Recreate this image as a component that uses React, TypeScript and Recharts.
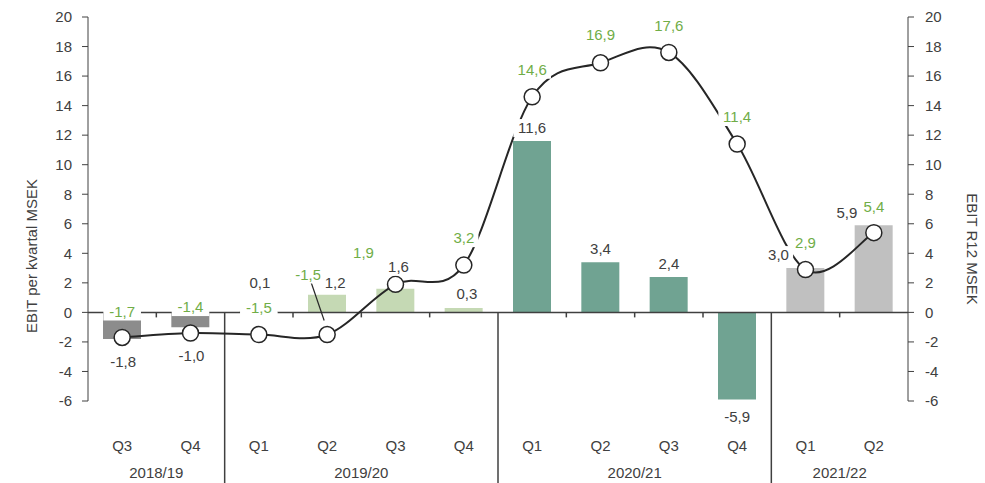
import { ComposedChart, Bar, Line, XAxis, YAxis, Cell, LabelList, ReferenceLine } from 'recharts';

const quarters = ['Q3', 'Q4', 'Q1', 'Q2', 'Q3', 'Q4', 'Q1', 'Q2', 'Q3', 'Q4', 'Q1', 'Q2'];
const years = ['2018/19', '2018/19', '2019/20', '2019/20', '2019/20', '2019/20', '2020/21', '2020/21', '2020/21', '2020/21', '2021/22', '2021/22'];
const ebitQuarter = [-1.8, -1.0, 0.1, 1.2, 1.6, 0.3, 11.6, 3.4, 2.4, -5.9, 3.0, 5.9];
const ebitR12 = [-1.7, -1.4, -1.5, -1.5, 1.9, 3.2, 14.6, 16.9, 17.6, 11.4, 2.9, 5.4];
const yTicks = [-6, -4, -2, 0, 2, 4, 6, 8, 10, 12, 14, 16, 18, 20];

const yearColors: Record<string, string> = {
    '2018/19': '#8C8C8C',
    '2019/20': '#C5D9B4',
    '2020/21': '#70A392',
    '2021/22': '#C0C0C0',
};

// label nudges (px) so the labels sit like in the original
const barLabelShift: [number, number][] = [
    [1, 23], [1, 29], [1, -28], [8, -12], [3, -22], [3, -14],
    [0, -13], [0, -13], [0, -13], [0, 17], [-27, -13], [-27, -12],
];
const r12LabelShift: [number, number][] = [
    [0, -26], [0, -26], [0, -27], [-19, -60], [-32, -32], [0, -27],
    [0, -27], [0, -28], [0, -27], [0, -27], [0, -27], [0, -26],
];

const data = quarters.map((q, i) => ({
    key: `${years[i]} ${q}`,
    ebit: ebitQuarter[i],
    r12: ebitR12[i],
}));

const FONT = '"Liberation Sans", Arial, sans-serif';
const TEXT = '#404040';
const GREEN = '#70AD47';
const fmt = (v: number) => v.toFixed(1).replace('.', ',');

// Excel-style smoothed line (catmull-rom through every point)
const excelSmooth = (context: any) => {
    let pts: [number, number][] = [];
    return {
        areaStart() {},
        areaEnd() {},
        lineStart() {
            pts = [];
        },
        lineEnd() {
            if (!pts.length) return;
            context.moveTo(pts[0][0], pts[0][1]);
            for (let i = 0; i < pts.length - 1; i++) {
                const p0 = pts[Math.max(i - 1, 0)];
                const p1 = pts[i];
                const p2 = pts[i + 1];
                const p3 = pts[Math.min(i + 2, pts.length - 1)];
                context.bezierCurveTo(
                    p1[0] + (p2[0] - p0[0]) / 6, p1[1] + (p2[1] - p0[1]) / 6,
                    p2[0] - (p3[0] - p1[0]) / 6, p2[1] - (p3[1] - p1[1]) / 6,
                    p2[0], p2[1],
                );
            }
        },
        point(x: number, y: number) {
            pts.push([+x, +y]);
        },
    };
};

const BoxLabel = ({ x, y, text, color }: { x: number; y: number; text: string; color: string }) => {
    const w = text.length * 8.4 + 4;
    return (
        <g>
            <rect x={x - w / 2} y={y - 9} width={w} height={18} fill="#fff" />
            <text x={x} y={y} dy="0.35em" textAnchor="middle" fill={color} fontSize={15} fontFamily={FONT}>
                {text}
            </text>
        </g>
    );
};

const BarValueLabel = (props: any) => {
    const { x, y, index, value } = props;
    const [dx, dy] = barLabelShift[index];
    return <BoxLabel x={x + dx} y={y + dy} text={fmt(value)} color={TEXT} />;
};

const R12Label = (props: any) => {
    const { x, y, index, value } = props;
    const [dx, dy] = r12LabelShift[index];
    return (
        <g>
            {index === 3 && <line x1={x - 16} y1={y - 52} x2={x - 3} y2={y - 14} stroke="#262626" strokeWidth={1.2} />}
            <BoxLabel x={x + dx} y={y + dy} text={fmt(value)} color={GREEN} />
        </g>
    );
};

const ZeroLine = (props: any) => {
    const { x1, x2, y1 } = props;
    const band = (x2 - x1) / quarters.length;
    return (
        <g stroke="#404040" strokeWidth={1.5}>
            <line x1={x1} x2={x2} y1={y1} y2={y1} />
            {quarters.map((_, k) => {
                const xb = x1 + band * k;
                if (k > 0 && years[k] !== years[k - 1]) {
                    return <line key={k} x1={xb} x2={xb} y1={y1} y2={y1 + 200} />;
                }
                return k > 0 ? <line key={k} x1={xb} x2={xb} y1={y1} y2={y1 + 5} /> : null;
            })}
        </g>
    );
};

const XTick = (props: any) => {
    const { x, y, index, width } = props;
    const band = (width || 820) / quarters.length;
    const yr = years[index];
    const first = years.indexOf(yr);
    const last = years.lastIndexOf(yr);
    return (
        <g fontFamily={FONT} fontSize={15} fill={TEXT}>
            <text x={x} y={y + 42} textAnchor="middle">{quarters[index]}</text>
            {index === first && (
                <text x={x + ((last - first) / 2) * band} y={y + 69} textAnchor="middle">{yr}</text>
            )}
        </g>
    );
};

const AxisTitle = (dx: number, dy: number, angle: number, value: string) => (props: any) => {
    const { viewBox } = props;
    const cx = viewBox.x + dx;
    const cy = viewBox.y + viewBox.height / 2 + dy;
    return (
        <text x={cx} y={cy} transform={`rotate(${angle} ${cx} ${cy})`} textAnchor="middle" dy="0.35em"
            fill={TEXT} fontSize={15} fontFamily={FONT}>
            {value}
        </text>
    );
};

export default function App() {
    return (
        <div>
            <style>{'body { margin: 0; }'}</style>
            <ComposedChart width={985} height={483} data={data} margin={{ top: 17, right: 0, left: 0, bottom: 0 }}>
                <XAxis dataKey="key" height={82} axisLine={false} tickLine={false} interval={0} tick={<XTick />} />
                <YAxis
                    yAxisId="left"
                    width={88}
                    domain={[-6, 20]}
                    ticks={yTicks}
                    interval={0}
                    allowDataOverflow
                    stroke="#404040"
                    tickSize={6}
                    tickMargin={10}
                    tick={{ fill: TEXT, fontSize: 15, fontFamily: FONT }}
                    label={{ content: AxisTitle(32, 47, -90, 'EBIT per kvartal MSEK') }}
                />
                <YAxis
                    yAxisId="right"
                    orientation="right"
                    width={77}
                    domain={[-6, 20]}
                    ticks={yTicks}
                    interval={0}
                    allowDataOverflow
                    stroke="#404040"
                    tickSize={6}
                    tickMargin={11}
                    tick={{ fill: TEXT, fontSize: 15, fontFamily: FONT, textAnchor: 'start' }}
                    label={{ content: AxisTitle(64, 40, 90, 'EBIT R12 MSEK') }}
                />
                <Bar yAxisId="left" dataKey="ebit" barSize={38} isAnimationActive={false}>
                    {data.map((d, i) => (
                        <Cell key={d.key} fill={yearColors[years[i]]} />
                    ))}
                </Bar>
                <ReferenceLine yAxisId="left" y={0} shape={<ZeroLine />} />
                <Line
                    yAxisId="right"
                    dataKey="r12"
                    type={excelSmooth as any}
                    stroke="#262626"
                    strokeWidth={2}
                    dot={{ r: 8, fill: '#fff', stroke: '#262626', strokeWidth: 1.5 }}
                    activeDot={false}
                    isAnimationActive={false}
                >
                    <LabelList dataKey="r12" content={<R12Label />} />
                </Line>
                <Line yAxisId="left" dataKey="ebit" stroke="none" dot={false} activeDot={false} isAnimationActive={false}>
                    <LabelList dataKey="ebit" content={<BarValueLabel />} />
                </Line>
            </ComposedChart>
        </div>
    );
}
